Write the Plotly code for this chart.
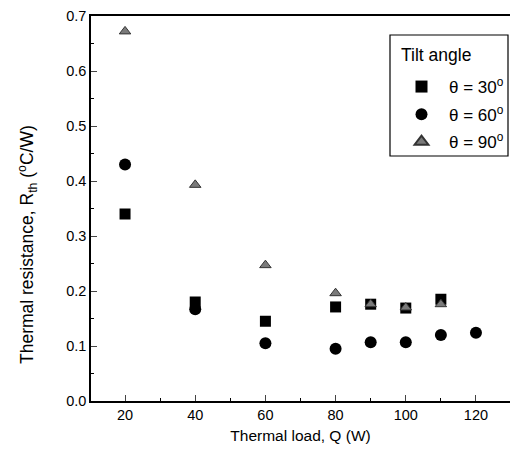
import plotly.graph_objects as go

q30 = [20, 40, 60, 80, 90, 100, 110]
r30 = [0.34, 0.18, 0.145, 0.171, 0.176, 0.169, 0.185]
q60 = [20, 40, 60, 80, 90, 100, 110, 120]
r60 = [0.43, 0.167, 0.105, 0.095, 0.107, 0.107, 0.12, 0.124]
q90 = [20, 40, 60, 80, 90, 100, 110]
r90 = [0.672, 0.393, 0.247, 0.196, 0.176, 0.17, 0.176]

fig = go.Figure()
fig.add_trace(go.Scatter(x=q30, y=r30, mode="markers", name="θ = 30<sup>o</sup>", legendgroup="a",
                         marker=dict(symbol="square", size=11, color="black")))
fig.add_trace(go.Scatter(x=q60, y=r60, mode="markers", name="θ = 60<sup>o</sup>", legendgroup="b",
                         marker=dict(symbol="circle", size=12, color="black")))
fig.add_trace(go.Scatter(x=q90, y=r90, mode="markers", name="θ = 90<sup>o</sup>", legendgroup="c",
                         marker=dict(symbol="triangle-up", size=10, color="#7a7a7a",
                                     line=dict(color="#333", width=1))))

font = "Liberation Sans, Arial, sans-serif"
L, T, B, PW, PH = 91, 16, 49, 419, 385
px = lambda v: (v - L) / PW
py = lambda v: (T + PH - v) / PH

fig.update_layout(
    width=510, height=450,
    margin=dict(l=L, r=0, t=T, b=B, autoexpand=False),
    paper_bgcolor="white", plot_bgcolor="white",
    font=dict(family=font, size=14, color="black"),
    showlegend=True,
    legend=dict(x=px(394), y=py(69), xanchor="left", yanchor="top",
                borderwidth=0, bgcolor="rgba(0,0,0,0)",
                font=dict(size=17), itemsizing="constant", tracegroupgap=2.5,
                itemwidth=45),
    xaxis=dict(range=[10.3, 129.7], tickvals=[20, 40, 60, 80, 100, 120],
               ticks="inside", ticklen=6, tickwidth=1.2, showline=True,
               linecolor="black", linewidth=1.5, mirror=True, showgrid=False,
               zeroline=False, automargin=False,
               minor=dict(tickvals=[10, 30, 50, 70, 90, 110], ticks="inside", ticklen=3, tickcolor="black"),
               title=dict(text="Thermal load, Q (W)", font=dict(size=15.5), standoff=8),
               tickfont=dict(size=14.5)),
    yaxis=dict(range=[0, 0.7], tickvals=[0, 0.1, 0.2, 0.3, 0.4, 0.5, 0.6, 0.7],
               tickformat=".1f",
               ticks="inside", ticklen=6, tickwidth=1.2, showline=True,
               linecolor="black", linewidth=1.5, mirror=False, showgrid=False,
               zeroline=False, automargin=False,
               minor=dict(tickvals=[0.05, 0.15, 0.25, 0.35, 0.45, 0.55, 0.65], ticks="inside", ticklen=3, tickcolor="black"),
               tickfont=dict(size=14.5)),
    shapes=[dict(type="rect", xref="paper", yref="paper",
                 x0=px(390), x1=px(508), y0=py(156), y1=py(35),
                 line=dict(color="black", width=1.2), fillcolor="white", layer="below")],
    annotations=[dict(text="Thermal resistance, R<sub>th</sub> (<sup>o</sup>C/W)",
                      textangle=-90, xref="paper", yref="paper",
                      x=px(27), y=py(245),
                      xanchor="center", yanchor="middle", showarrow=False,
                      font=dict(size=17.5)),
                 dict(text="Tilt angle", xref="paper", yref="paper",
                      x=px(399), y=py(55), xanchor="left", yanchor="middle",
                      showarrow=False, font=dict(size=17.5))],
)
fig.write_html("out.html")
